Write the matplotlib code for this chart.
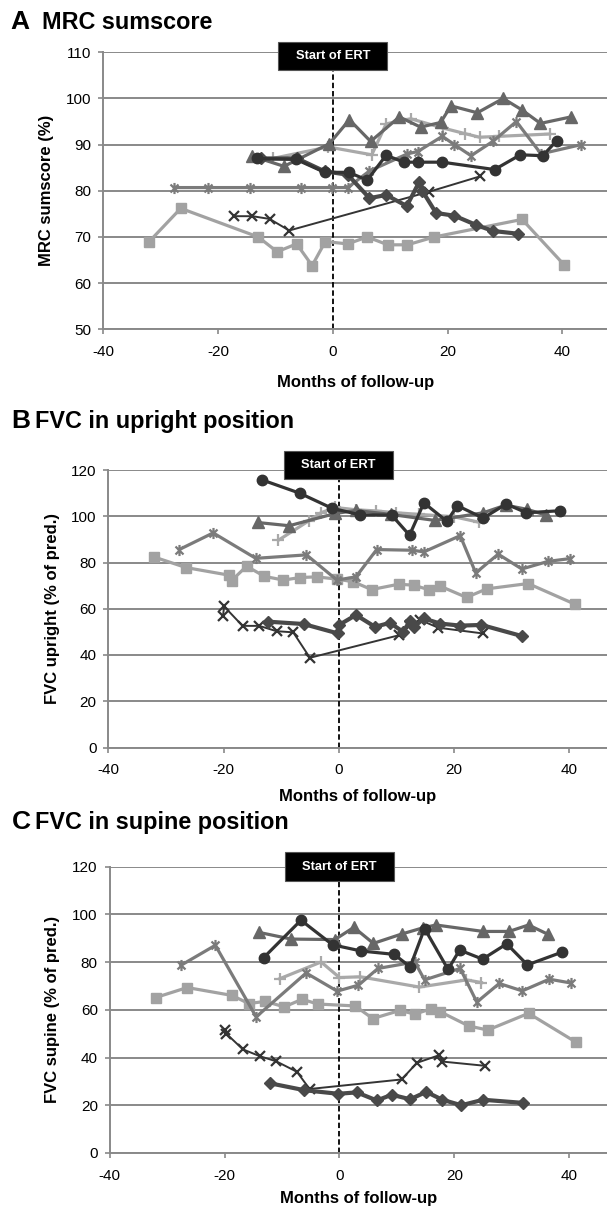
import matplotlib
matplotlib.use("Agg")
import matplotlib.pyplot as plt
from matplotlib.path import Path
from matplotlib.patches import Rectangle

W, H = 607, 1212
plt.rcParams['font.family'] = ['Liberation Sans', 'DejaVu Sans']
plt.rcParams['axes.unicode_minus'] = False

# ---------------- Panel A: MRC sumscore (%) ----------------
a_square_x = [-32, -26.5, -13, -9.7, -6.3, -3.6, -1.3, 2.6, 6, 9.6, 13, 17.7, 33, 40.3]
a_square_y = [69, 76.2, 70, 66.8, 68.5, 63.8, 69, 68.5, 70, 68.3, 68.3, 70, 73.8, 64]
a_aster_x = [-27.6, -21.7, -14.5, -5.6, -0.1, 2.6, 6.4, 13, 14.8, 19.1, 21.2, 24.1, 27.9, 32, 36.3, 43.3]
a_aster_y = [80.7, 80.7, 80.7, 80.7, 80.7, 80.7, 84.3, 88, 88.5, 91.8, 90, 87.6, 90.7, 95, 88, 90]
a_plus_x = [-10.5, -0.8, 6.8, 9.3, 13.6, 19.2, 23, 25.6, 29, 37.8]
a_plus_y = [87, 89.5, 87.8, 94.5, 95.6, 93.6, 92.4, 91.6, 91.8, 92.3]
a_tri_x = [-14, -8.5, -0.6, 2.9, 6.6, 11.6, 15.3, 18.8, 20.6, 25.2, 29.7, 33, 36.2, 41.5]
a_tri_y = [87.5, 85.3, 90.2, 95.4, 90.7, 96, 93.8, 94.8, 98.4, 96.9, 100, 97.5, 94.6, 96]
a_cross_x = [-17.3, -14, -11, -7.6, 16.8, 25.6]
a_cross_y = [74.5, 74.5, 73.9, 71.4, 79.8, 83.1]
a_diam_x = [-12.5, -6.2, -1.4, 2.6, 6.4, 9.3, 12.9, 15.1, 15.6, 18, 21.2, 25, 27.9, 32.3]
a_diam_y = [87, 87, 84.2, 83.5, 78.4, 79.1, 76.7, 82, 80, 75.2, 74.6, 72.6, 71.3, 70.7]
a_circ_x = [-13.2, -6.4, -1.4, 2.8, 6, 9.3, 12.4, 14.8, 19.1, 28.2, 32.7, 36.6, 39]
a_circ_y = [87, 86.8, 84, 84, 82.3, 87.7, 86.2, 86.2, 86.2, 84.6, 87.8, 87.6, 90.8]

# ---------------- Panel B: FVC upright (% of predicted) ----------------
b_square_x = [-32.1, -26.5, -19, -18.6, -16, -12.9, -9.6, -6.7, -3.8, -0.3, 2.5, 5.7, 10.4, 13, 15.7, 17.6, 22.2, 25.7, 32.9, 41]
b_square_y = [82.4, 77.8, 74.5, 72.2, 78.4, 74, 72.4, 73.5, 73.8, 72.8, 71.7, 68.3, 70.6, 70.2, 68.2, 69.8, 64.9, 68.6, 70.9, 62]
b_aster_x = [-27.7, -21.8, -14.4, -5.6, -0.3, 3, 6.6, 12.8, 14.8, 21.1, 23.8, 27.7, 31.8, 36.4, 40.2]
b_aster_y = [85.6, 92.8, 81.8, 83.3, 72.4, 73.8, 85.6, 85.3, 84.6, 91.6, 75.5, 83.6, 77.2, 80.5, 81.7]
b_plus_x = [-10.5, -5.2, -3.1, -0.6, 3, 6.5, 10, 14, 20, 24.4]
b_plus_y = [89.6, 98, 101.5, 103.8, 102.8, 102.3, 101.5, 100.8, 99.8, 97.4]
b_tri_x = [-14.1, -8.6, -0.6, 3, 9, 16.7, 25.1, 29, 32.7, 36]
b_tri_y = [97.3, 95.9, 101.2, 102.5, 100.8, 98.2, 101.5, 104.8, 103, 100.5]
b_cross_x = [-20.1, -19.9, -16.7, -13.8, -10.8, -7.9, -5, 10.4, 12.4, 14.1, 17.3, 25.1]
b_cross_y = [56.8, 61, 52.6, 52.6, 50.3, 49.8, 38.8, 48.5, 53, 55.2, 51.8, 49.3]
b_diam_x = [-12.2, -6.1, -0.1, 0, 3, 6.3, 8.9, 11.2, 12.3, 13, 14.8, 17.6, 21.1, 24.8, 31.8]
b_diam_y = [54.4, 53.4, 49.3, 52.9, 57.3, 52.2, 53.9, 50, 54.5, 52, 55.8, 53.6, 52.7, 53, 48.2]
b_circ_x = [-13.4, -6.8, -1.2, 3.7, 9.2, 12.3, 14.8, 18.8, 20.6, 25.1, 29.1, 32.6, 38.5]
b_circ_y = [115.8, 110, 103.5, 100.6, 100.5, 91.8, 105.8, 97.8, 104.6, 99.2, 105.3, 101.5, 102.4]

# ---------------- Panel C: FVC supine (% of predicted) ----------------
c_square_x = [-32, -26.5, -18.7, -15.8, -12.9, -9.6, -6.5, -3.8, 2.7, 5.8, 10.5, 13.1, 16, 17.5, 22.5, 25.8, 32.9, 41.1]
c_square_y = [65.1, 69.3, 66, 62.6, 63.5, 61.2, 64.4, 62.4, 61.6, 56.3, 59.7, 58.2, 60.4, 59.2, 53.2, 51.5, 58.5, 46.5]
c_aster_x = [-27.6, -21.6, -14.5, -5.8, -0.4, 3.3, 6.7, 13.1, 14.8, 21, 23.9, 27.8, 31.8, 36.5, 40.3]
c_aster_y = [78.6, 87, 57, 75.4, 67.8, 70.3, 77.3, 80, 72.5, 77.3, 63.2, 71, 67.9, 72.8, 71.2]
c_plus_x = [-10.4, -3.2, 0, 3.6, 13.9, 22.1, 24.7]
c_plus_y = [73, 80, 73.5, 73.8, 69.5, 72.5, 71.4]
c_tri_x = [-14, -8.4, -0.8, 2.5, 5.9, 10.8, 14.5, 16.8, 25, 29.5, 32.9, 36.2]
c_tri_y = [92.4, 89.6, 89.4, 94.5, 87.8, 91.7, 94.3, 95.5, 92.8, 92.8, 95.5, 91.7]
c_cross_x = [-20, -19.7, -16.8, -13.8, -11, -7.4, -5.2, 10.8, 13.5, 17.4, 17.9, 25.4]
c_cross_y = [51.6, 50, 43.4, 40.5, 38.4, 34, 26.8, 30.8, 37.8, 41, 38.3, 36.5]
c_diam_x = [-12.1, -6.1, -0.2, 3, 6.5, 9.1, 12.3, 15.1, 17.9, 21.2, 25, 31.9]
c_diam_y = [29.2, 26.3, 24.8, 25.4, 22, 24.4, 22.5, 25.6, 22.3, 20, 22.3, 21]
c_circ_x = [-13.2, -6.7, -1.2, 3.8, 9.5, 12.3, 14.8, 18.9, 20.9, 24.9, 29.1, 32.7, 38.8]
c_circ_y = [81.8, 97.5, 87.2, 84.6, 83.2, 78, 94, 76.9, 85, 81.2, 87.6, 78.8, 84.2]

x_ticks = [-40, -20, 0, 20, 40]
a_yticks = [50, 60, 70, 80, 90, 100, 110]
bc_yticks = [0, 20, 40, 60, 80, 100, 120]

# asterisk marker: an X with a vertical stroke
_d = 0.72
ASTER = Path([(0, -1), (0, 1), (-_d, -_d), (_d, _d), (-_d, _d), (_d, -_d)],
             [Path.MOVETO, Path.LINETO, Path.MOVETO, Path.LINETO, Path.MOVETO, Path.LINETO])

STYLES = {
    'square': dict(color='#a2a2a2', marker='s', ms=7, lw=2.3, mec='#a2a2a2'),
    'plus': dict(color='#a9a9a9', marker='+', ms=8, mew=1.6, lw=2.3),
    'aster': dict(color='#7b7b7b', marker=ASTER, ms=8, mew=1.6, lw=2.3),
    'tri': dict(color='#676767', marker='^', ms=8, lw=2.3),
    'cross': dict(color='#343434', marker='x', ms=7, mew=1.6, lw=1.4),
    'diam': dict(color='#494949', marker='D', ms=6.5, lw=3.0),
    'circ': dict(color='#333333', marker='o', ms=7.5, lw=2.3),
}
ORDER = ['square', 'plus', 'aster', 'tri', 'cross', 'diam', 'circ']

panels = [
    dict(letter='A', title='MRC sumscore', ylabel='MRC sumscore (%)',
         box=(103.3, 52.3, 607, 329.3), xrange=(-40, 47.8), ylim=(50, 110), yticks=a_yticks,
         series={'square': (a_square_x, a_square_y), 'plus': (a_plus_x, a_plus_y),
                 'aster': (a_aster_x, a_aster_y), 'tri': (a_tri_x, a_tri_y),
                 'cross': (a_cross_x, a_cross_y), 'diam': (a_diam_x, a_diam_y),
                 'circ': (a_circ_x, a_circ_y)},
         title_y=29, title_x=(10.8, 41.5), ylabel_x=47, xlabel_y=383, ert_dy=3.9),
    dict(letter='B', title='FVC in upright position', ylabel='FVC upright (% of pred.)',
         box=(108.4, 470, 607, 747.5), xrange=(-40, 46.6), ylim=(0, 120), yticks=bc_yticks,
         series={'square': (b_square_x, b_square_y), 'plus': (b_plus_x, b_plus_y),
                 'aster': (b_aster_x, b_aster_y), 'tri': (b_tri_x, b_tri_y),
                 'cross': (b_cross_x, b_cross_y), 'diam': (b_diam_x, b_diam_y),
                 'circ': (b_circ_x, b_circ_y)},
         title_y=428, title_x=(11.6, 35), ylabel_x=53, xlabel_y=797, ert_dy=-5.1),
    dict(letter='C', title='FVC in supine position', ylabel='FVC supine (% of pred.)',
         box=(109.6, 866.5, 607, 1153), xrange=(-40, 46.55), ylim=(0, 120), yticks=bc_yticks,
         series={'square': (c_square_x, c_square_y), 'plus': (c_plus_x, c_plus_y),
                 'aster': (c_aster_x, c_aster_y), 'tri': (c_tri_x, c_tri_y),
                 'cross': (c_cross_x, c_cross_y), 'diam': (c_diam_x, c_diam_y),
                 'circ': (c_circ_x, c_circ_y)},
         title_y=829, title_x=(11.6, 35), ylabel_x=53, xlabel_y=1199, ert_dy=0.0),
]

fig = plt.figure(figsize=(W / 100, H / 100), dpi=100)
GRID = '#898989'

for p in panels:
    l, t, r, b = p['box']
    ax = fig.add_axes([l / W, 1 - b / H, (r - l) / W, (b - t) / H])
    ax.set_xlim(*p['xrange'])
    ax.set_ylim(*p['ylim'])
    ax.set_xticks(x_ticks)
    ax.set_yticks(p['yticks'])
    ax.yaxis.grid(True, color=GRID, lw=1.4)
    ax.set_axisbelow(True)
    for s in ('top', 'right'):
        ax.spines[s].set_visible(False)
    for s in ('left', 'bottom'):
        ax.spines[s].set_color(GRID)
        ax.spines[s].set_linewidth(1.4)
    ax.tick_params(axis='x', length=3.5, width=1.2, color=GRID, pad=8, labelsize=11)
    ax.tick_params(axis='y', length=3.5, width=1.2, color=GRID, pad=5, labelsize=11)

    # treatment start marker
    ax.plot([0, 0], p['ylim'], color='black', lw=1.3, ls=(0, (3, 1.6)), zorder=1.5)

    for key in ORDER:
        xs, ys = p['series'][key]
        ax.plot(xs, ys, zorder=3, clip_on=False, **STYLES[key])

    # "Start of ERT" label box centred on month 0
    x0_px = ax.transData.transform((0, 0))[0]
    cy = t + p['ert_dy']
    bw, bh = 109, 28.5
    fig.patches.append(Rectangle(((x0_px - bw / 2) / W, 1 - (cy + bh / 2) / H), bw / W, bh / H,
                                 transform=fig.transFigure, facecolor='black',
                                 edgecolor='#555555', lw=0.8, zorder=5))
    fig.text(x0_px / W, 1 - cy / H, 'Start of ERT', color='white', fontsize=9.3,
             fontweight='bold', ha='center', va='center', zorder=6)

    # panel heading
    fig.text(p['title_x'][0] / W, 1 - p['title_y'] / H, p['letter'], fontsize=19,
             fontweight='bold', ha='left', va='baseline')
    fig.text(p['title_x'][1] / W, 1 - p['title_y'] / H, p['title'], fontsize=16.8,
             fontweight='bold', ha='left', va='baseline')

    # axis titles
    fig.text(p['ylabel_x'] / W, 1 - (t + b) / 2 / H, p['ylabel'], rotation=90, fontsize=12,
             fontweight='bold', ha='center', va='center')
    fig.text((l + 607) / 2 / W, 1 - p['xlabel_y'] / H, 'Months of follow-up', fontsize=12,
             fontweight='bold', ha='center', va='center')

fig.savefig('out.png', dpi=100)
